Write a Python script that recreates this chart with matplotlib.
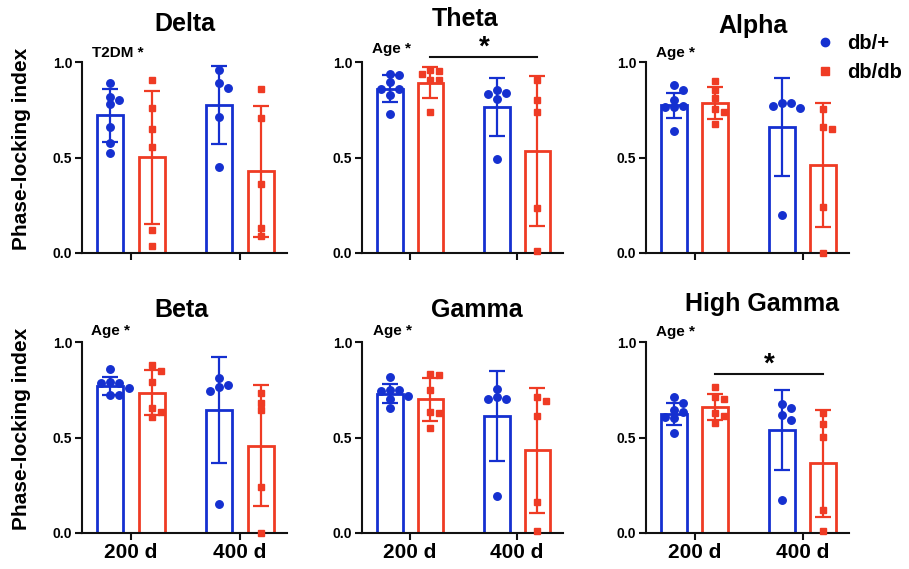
import numpy as np
import matplotlib
matplotlib.use('Agg')
import matplotlib.pyplot as plt
from matplotlib.lines import Line2D

plt.rcParams['font.family'] = ['Liberation Sans', 'DejaVu Sans']
plt.rcParams['font.weight'] = 'bold'

# ---------------- data ----------------
bands = ['Delta', 'Theta', 'Alpha', 'Beta', 'Gamma', 'High Gamma']
ages = ['200 d', '400 d']
genotypes = ['db/+', 'db/db']
main_effects = ['T2DM *', 'Age *', 'Age *', 'Age *', 'Age *', 'Age *']

# order inside each band: db/+ 200 d, db/db 200 d, db/+ 400 d, db/db 400 d
delta_points = [[0.892, 0.817, 0.803, 0.779, 0.661, 0.574, 0.522],
                [0.904, 0.757, 0.649, 0.553, 0.122, 0.038],
                [0.960, 0.892, 0.864, 0.713, 0.452],
                [0.861, 0.708, 0.360, 0.130, 0.090]]
delta_mean = [0.720, 0.502, 0.774, 0.427]
delta_sd = [0.139, 0.348, 0.203, 0.342]

theta_points = [[0.936, 0.930, 0.896, 0.861, 0.861, 0.826, 0.727],
                [0.960, 0.953, 0.939, 0.908, 0.904, 0.736],
                [0.856, 0.838, 0.831, 0.807, 0.490],
                [0.904, 0.800, 0.739, 0.235, 0.009]]
theta_mean = [0.861, 0.892, 0.764, 0.535]
theta_sd = [0.070, 0.080, 0.153, 0.393]

alpha_points = [[0.879, 0.853, 0.801, 0.769, 0.766, 0.762, 0.641],
                [0.901, 0.856, 0.809, 0.752, 0.740, 0.676],
                [0.787, 0.783, 0.769, 0.757, 0.198],
                [0.752, 0.662, 0.648, 0.243, 0.000]]
alpha_mean = [0.774, 0.786, 0.659, 0.460]
alpha_sd = [0.065, 0.083, 0.258, 0.324]

beta_points = [[0.861, 0.791, 0.783, 0.783, 0.757, 0.722, 0.722],
               [0.878, 0.849, 0.791, 0.657, 0.635, 0.605],
               [0.809, 0.774, 0.765, 0.744, 0.153],
               [0.734, 0.682, 0.643, 0.240, 0.000]]
beta_mean = [0.770, 0.734, 0.644, 0.458]
beta_sd = [0.048, 0.118, 0.277, 0.319]

gamma_points = [[0.817, 0.748, 0.748, 0.744, 0.717, 0.704, 0.652],
                [0.830, 0.826, 0.748, 0.635, 0.626, 0.551],
                [0.755, 0.710, 0.704, 0.704, 0.195],
                [0.710, 0.690, 0.612, 0.160, 0.009]]
gamma_mean = [0.730, 0.701, 0.611, 0.432]
gamma_sd = [0.050, 0.113, 0.236, 0.327]

hgamma_points = [[0.713, 0.682, 0.643, 0.635, 0.609, 0.603, 0.525],
                 [0.762, 0.713, 0.699, 0.626, 0.612, 0.577],
                 [0.675, 0.652, 0.617, 0.591, 0.174],
                 [0.630, 0.570, 0.504, 0.122, 0.009]]
hgamma_mean = [0.624, 0.662, 0.541, 0.364]
hgamma_sd = [0.058, 0.068, 0.209, 0.282]

all_points = [delta_points, theta_points, alpha_points, beta_points, gamma_points, hgamma_points]
all_means = [delta_mean, theta_mean, alpha_mean, beta_mean, gamma_mean, hgamma_mean]
all_sds = [delta_sd, theta_sd, alpha_sd, beta_sd, gamma_sd, hgamma_sd]

# significance brackets: db/db 200 d vs db/db 400 d, line level
sig_bands = ['Theta', 'High Gamma']
sig_levels = [1.026, 0.835]

# ---------------- style / layout ----------------
BLUE = '#1530d0'
RED = '#ef3b24'
colors = [BLUE, RED]
markers = ['o', 's']
msizes = [5.4, 5.0]

W, H = 909, 569
fig = plt.figure(figsize=(W / 100, H / 100), dpi=100)

col_left = [82, 362, 646]
col_width = [205, 201, 203]
row_top = [62, 342]
ax_height = 191
title_y = [1.20, 1.225, 1.19, 1.165, 1.165, 1.20]
title_dx = [0.0, 0.012, 0.029, -0.014, 0.07, 0.07]
effect_x = [-0.12, -0.17, -0.18, -0.185, -0.165, -0.18]
effect_y = [1.045, 1.07, 1.045, 1.057, 1.057, 1.05]

offset = 0.19
bar_w = 0.24
xlim = (-0.45, 1.43)
px_per_x = 108.0
px_per_y = 191.0


def swarm(vals, center, step_px=9.0, diam_px=7.0):
    vals = np.asarray(vals, dtype=float)
    order = np.argsort(-vals, kind='stable')
    placed = []
    xs = np.zeros(len(vals))
    cands = [0]
    for j in range(1, 8):
        cands += [j, -j]
    for i in order:
        y = vals[i]
        chosen = 0.0
        for c in cands:
            dx = c * step_px / px_per_x
            ok = True
            for (px, py) in placed:
                d = np.hypot((dx - px) * px_per_x, (y - py) * px_per_y)
                if d < diam_px:
                    ok = False
                    break
            if ok:
                chosen = dx
                break
        placed.append((chosen, y))
        xs[i] = center + chosen
    return xs


group_pos = np.array([0.0, 1.0])

for k, band in enumerate(bands):
    r, c = divmod(k, 3)
    left = col_left[c] / W
    bottom = 1 - (row_top[r] + ax_height) / H
    ax = fig.add_axes([left, bottom, col_width[c] / W, ax_height / H])

    pts = all_points[k]
    means = all_means[k]
    sds = all_sds[k]
    for gi in range(2):          # age group
        for gj in range(2):      # genotype
            idx = gi * 2 + gj
            x = group_pos[gi] + (-offset if gj == 0 else offset)
            col = colors[gj]
            ax.bar(x, means[idx], width=bar_w, fill=False, edgecolor=col,
                   linewidth=2.0, zorder=2)
            ax.errorbar(x, means[idx], yerr=sds[idx], color=col, capsize=6,
                        elinewidth=1.6, capthick=1.6, zorder=3, fmt='none')
            xs = swarm(pts[idx], x)
            ax.plot(xs, pts[idx], ls='none', marker=markers[gj],
                    markersize=msizes[gj], color=col, mec=col, zorder=4,
                    clip_on=False)

    ax.set_xlim(*xlim)
    ax.set_ylim(0, 1.0)
    ax.set_yticks([0.0, 0.5, 1.0])
    ax.set_yticklabels(['0.0', '0.5', '1.0'], fontsize=10, fontweight='bold')
    ax.set_xticks(group_pos)
    if r == 1:
        ax.set_xticklabels(ages, fontsize=15, fontweight='bold')
    else:
        ax.set_xticklabels([])
    for s in ['top', 'right']:
        ax.spines[s].set_visible(False)
    for s in ['left', 'bottom']:
        ax.spines[s].set_linewidth(1.5)
        ax.spines[s].set_color('#111111')
    ax.tick_params(axis='both', width=1.5, length=5, color='#111111', pad=2)
    ax.set_facecolor('none')

    ax.text(0.5 + title_dx[k], title_y[k], band, transform=ax.transAxes,
            ha='center', va='center', fontsize=18, fontweight='bold')
    ax.text(effect_x[k], effect_y[k], main_effects[k], ha='center', va='center',
            fontsize=11, fontweight='bold', clip_on=False)

    if band in sig_bands:
        lvl = sig_levels[sig_bands.index(band)]
        x1 = group_pos[0] + offset
        x2 = group_pos[1] + offset
        ax.plot([x1, x2], [lvl, lvl], color='#111111', lw=1.5, clip_on=False)
        ax.text((x1 + x2) / 2, lvl - 0.02, '*', ha='center', va='bottom',
                fontsize=20, fontweight='bold', clip_on=False)

    if c == 0:
        cy = 1 - (row_top[r] + ax_height / 2 - 9) / H
        fig.text(22 / W, cy, 'Phase-locking index', rotation=90, ha='center',
                 va='center', fontsize=15, fontweight='bold')

handles = [Line2D([], [], ls='none', marker=markers[i], markersize=msizes[i] + 0.6,
                  color=colors[i]) for i in range(2)]
fig.legend(handles, genotypes, loc='center left',
           bbox_to_anchor=(805 / W, 1 - 58 / H), frameon=False,
           handlelength=1.0, handletextpad=0.6,
           labelspacing=0.5, borderpad=0, prop={'weight': 'bold', 'size': 14.5})

fig.savefig('out.png', dpi=100, facecolor='white')
